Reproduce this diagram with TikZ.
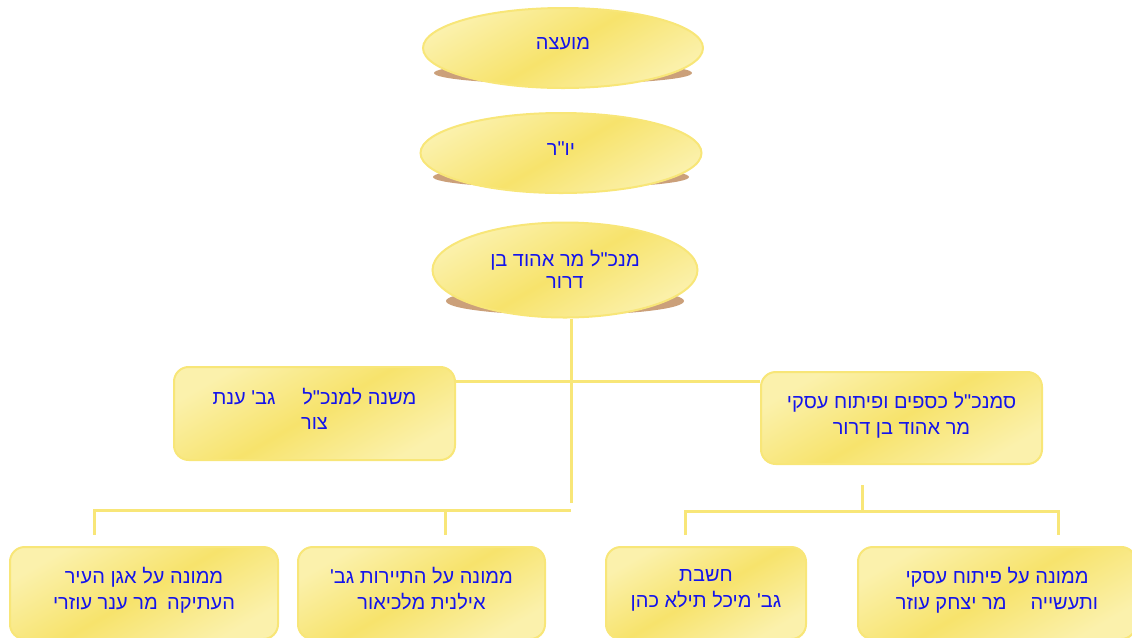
\documentclass[tikz,border=0pt]{standalone}
\usepackage{fontspec}
\newfontfamily\hebfont[Script=Hebrew]{Liberation Sans}
\TeXXeTstate=1
\usetikzlibrary{shapes.geometric}

\definecolor{paleyellow}{RGB}{251,241,172}
\definecolor{deepyellow}{RGB}{247,227,108}
\definecolor{rimyellow}{RGB}{248,230,120}
\definecolor{shadowbrown}{RGB}{203,160,122}
\definecolor{txtblue}{RGB}{20,20,235}

\tikzset{every picture/.style={line width=0.75pt}}
\tikzset{
  hebtext/.style={font=\hebfont\fontsize{15}{19}\selectfont, text=txtblue, align=center, text depth=7pt},
  goldfill/.style={draw=rimyellow, line width=1.5pt, left color=paleyellow, right color=paleyellow, middle color=deepyellow, shading angle=30},
  oval/.style={ellipse, goldfill, hebtext, inner sep=0pt},
  card/.style={rectangle, rounded corners=11pt, goldfill, hebtext, inner sep=0pt},
  conn/.style={draw=rimyellow, line width=2.25pt}
}

\begin{document}
\begin{tikzpicture}[x=0.75pt,y=0.75pt,yscale=-1,xscale=1]
\path[use as bounding box] (0,0) rectangle (1132,637);
\clip (0,0) rectangle (1132,637);

%Shadows under the ovals
\fill[shadowbrown] (563,73) ellipse (129 and 11);
\fill[shadowbrown] (561,177) ellipse (128 and 11);
\fill[shadowbrown] (565,301) ellipse (119 and 14);

%Ovals
\node[oval, minimum width=210pt, minimum height=60pt] (council) at (563,48) {\beginR מועצה\endR};
\node[oval, minimum width=210.75pt, minimum height=60pt] (chair) at (561,153) {\beginR יו"ר\endR};
\node[oval, minimum width=198.75pt, minimum height=71.25pt, text depth=1pt, font=\hebfont\fontsize{15}{17}\selectfont] (ceo) at (565,270) {\beginR מנכ"ל מר אהוד בן\endR\\\beginR דרור\endR};

%Second row
\node[card, minimum width=210.75pt, minimum height=69.75pt] (deputy) at (314.5,413.5) {\beginR משנה למנכ"ל\hspace{20pt}גב' ענת\endR\\\beginR צור\endR};
\node[card, minimum width=210.75pt, minimum height=69pt] (finance) at (901.5,418) {\beginR סמנכ"ל כספים ופיתוח עסקי\endR\\\beginR מר אהוד בן דרור\endR};

%Bottom row
\node[card, minimum width=201pt, minimum height=69pt] (oldcity) at (144,593) {\beginR ממונה על אגן העיר\endR\\\beginR העתיקה\hspace{7pt}מר ענר עוזרי\endR};
\node[card, minimum width=185.25pt, minimum height=69pt] (tourism) at (421.5,593) {\beginR ממונה על התיירות גב'\endR\\\beginR אילנית מלכיאור\endR};
\node[card, minimum width=150pt, minimum height=69pt] (treasurer) at (706,593) {\beginR חשבת\endR\\\beginR גב' מיכל תילא כהן\endR};
\node[card, minimum width=208.5pt, minimum height=69pt] (business) at (997,593) {\beginR ממונה על פיתוח עסקי\endR\\\beginR ותעשייה\hspace{18pt}מר יצחק עוזר\endR};

%Connector points
\coordinate (trunk) at (571,503);
\coordinate (link) at (571,381);
\coordinate (leftbar) at (571,510);
\coordinate (dropA) at (94,535);
\coordinate (dropB) at (445,535);
\coordinate (rightstem) at (862,485);
\coordinate (rightbar) at (862,511);
\coordinate (dropC) at (685,535);
\coordinate (dropD) at (1058,535);

%Connectors
\draw[conn] (ceo.south -| trunk) -- (trunk);
\draw[conn] (deputy.east |- link) -- (finance.west |- link);
\draw[conn] (leftbar) -| (dropA);
\draw[conn] (dropB |- leftbar) -- (dropB);
\draw[conn] (rightstem) -- (rightbar);
\draw[conn] (dropC) |- (rightbar) -| (dropD);

\end{tikzpicture}
\end{document}
